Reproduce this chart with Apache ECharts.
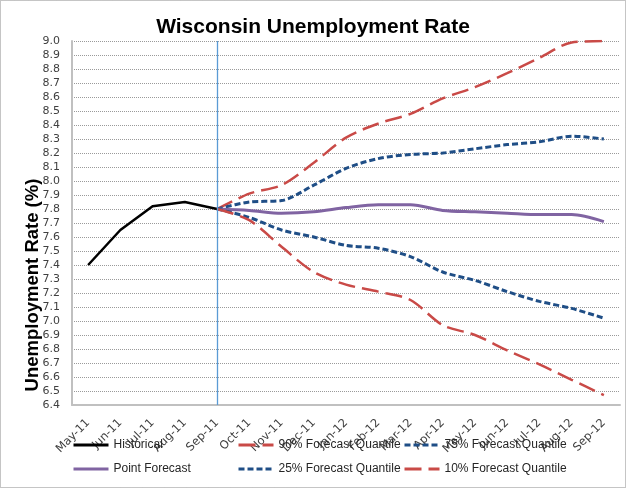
<!DOCTYPE html>
<html>
<head>
<meta charset="utf-8">
<script src="https://cdn.jsdelivr.net/npm/echarts@6/dist/echarts.min.js"></script>
<style>
html,body{margin:0;padding:0;background:#fff;}
#chart{width:626px;height:488px;}
</style>
</head>
<body>
<div id="chart"></div>
<script>
var categories = ['May-11','Jun-11','Jul-11','Aug-11','Sep-11','Oct-11','Nov-11','Dec-11','Jan-12','Feb-12','Mar-12','Apr-12','May-12','Jun-12','Jul-12','Aug-12','Sep-12'];
var historical = [7.40, 7.65, 7.82, 7.85, 7.80, null, null, null, null, null, null, null, null, null, null, null, null];
var q90 = [null, null, null, null, 7.80, 7.91, 7.97, 8.13, 8.31, 8.41, 8.48, 8.59, 8.67, 8.77, 8.88, 8.99, 9.00];
var q75 = [null, null, null, null, 7.80, 7.85, 7.86, 7.97, 8.09, 8.16, 8.19, 8.20, 8.23, 8.26, 8.28, 8.32, 8.30];
var pointForecast = [null, null, null, null, 7.80, 7.79, 7.77, 7.78, 7.81, 7.83, 7.83, 7.79, 7.78, 7.77, 7.76, 7.76, 7.71];
var q25 = [null, null, null, null, 7.80, 7.74, 7.65, 7.60, 7.54, 7.52, 7.46, 7.35, 7.29, 7.21, 7.14, 7.09, 7.02];
var q10 = [null, null, null, null, 7.80, 7.72, 7.53, 7.35, 7.26, 7.21, 7.15, 6.97, 6.90, 6.79, 6.69, 6.58, 6.47];
var forecastStart = 'Sep-11';

var RED = '#c94a47', BLUE = '#1f4e86', PURPLE = '#8064a2';
var legendFont = {fontFamily: 'Liberation Sans', fontSize: 12, color: '#262626'};

function mkLegend(name, left, top) {
  return {
    data: [name], left: left, top: top, padding: 0,
    itemWidth: 35, itemHeight: 12, itemGap: 0,
    itemStyle: {opacity: 0},
    lineStyle: {width: 3},
    textStyle: legendFont, selectedMode: false
  };
}

var chart = echarts.init(document.getElementById('chart'), null, {renderer: 'canvas'});
chart.setOption({
  animation: false,
  backgroundColor: '#fff',
  title: {
    text: 'Wisconsin Unemployment Rate',
    left: 'center', top: 12,
    textStyle: {fontFamily: 'Liberation Sans', fontWeight: 'bold', fontSize: 21, color: '#000'}
  },
  legend: [
    mkLegend('Historical', 72, 439),
    mkLegend('90% Forecast Quantile', 237, 439),
    mkLegend('75% Forecast Quantile', 403, 439),
    mkLegend('Point Forecast', 72, 463),
    mkLegend('25% Forecast Quantile', 237, 463),
    mkLegend('10% Forecast Quantile', 403, 463)
  ],
  grid: {left: 72, right: 6, top: 41, bottom: 83, containLabel: false},
  xAxis: {
    type: 'category', data: categories, boundaryGap: true,
    axisLine: {lineStyle: {color: '#c0c0c0', width: 2}},
    axisTick: {show: false},
    axisLabel: {rotate: 45, margin: 16, interval: 0, fontFamily: 'DejaVu Sans', fontSize: 11.5, color: '#404040'},
    splitLine: {show: false}
  },
  yAxis: {
    type: 'value', min: 6.4, max: 9.0, interval: 0.1,
    axisLine: {show: true, lineStyle: {color: '#c0c0c0', width: 2}},
    axisTick: {show: false},
    axisLabel: {margin: 12, fontFamily: 'DejaVu Sans', fontSize: 11, color: '#404040',
      formatter: function (v) { return v.toFixed(1); }},
    splitLine: {show: true, lineStyle: {color: '#9a9a9a', type: 'dotted', width: 1}}
  },
  graphic: [
    {type: 'rect', shape: {x: 0.5, y: 0.5, width: 625, height: 487},
     style: {fill: null, stroke: '#8a8a8a', lineWidth: 1, lineDash: [1, 1]}, silent: true},
    {type: 'text', x: 33, y: 285, rotation: Math.PI / 2,
     style: {text: 'Unemployment Rate (%)', fontFamily: 'Liberation Sans', fontWeight: 'bold', fontSize: 18.5,
             fill: '#000', align: 'center', verticalAlign: 'middle'}, silent: true}
  ],
  series: [
    {name: 'Historical', type: 'line', data: historical, symbol: 'none', smooth: false,
     lineStyle: {color: '#000', width: 2.5}, itemStyle: {color: '#000'},
     markLine: {silent: true, symbol: 'none', label: {show: false},
       lineStyle: {color: '#5b9bd5', width: 1.3, type: 'solid'},
       data: [{xAxis: forecastStart}]}},
    {name: '90% Forecast Quantile', type: 'line', data: q90, symbol: 'none', smooth: 0.3,
     lineStyle: {color: RED, width: 2.5, type: [17, 7]}, itemStyle: {color: RED}},
    {name: '75% Forecast Quantile', type: 'line', data: q75, symbol: 'none', smooth: 0.3,
     lineStyle: {color: BLUE, width: 3, type: [6, 3]}, itemStyle: {color: BLUE}},
    {name: 'Point Forecast', type: 'line', data: pointForecast, symbol: 'none', smooth: 0.3,
     lineStyle: {color: PURPLE, width: 3}, itemStyle: {color: PURPLE}},
    {name: '25% Forecast Quantile', type: 'line', data: q25, symbol: 'none', smooth: 0.3,
     lineStyle: {color: BLUE, width: 3, type: [6, 3]}, itemStyle: {color: BLUE}},
    {name: '10% Forecast Quantile', type: 'line', data: q10, symbol: 'none', smooth: 0.3,
     lineStyle: {color: RED, width: 2.5, type: [17, 7]}, itemStyle: {color: RED}}
  ]
});
</script>
</body>
</html>
